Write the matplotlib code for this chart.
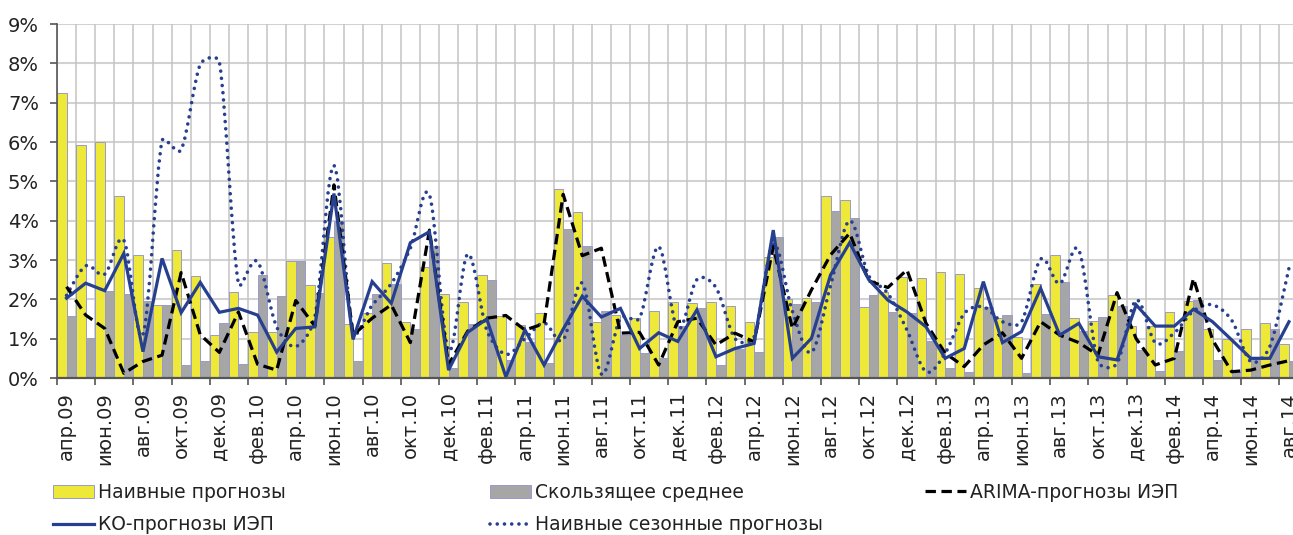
import numpy as np
import matplotlib
matplotlib.use("Agg")
import matplotlib.pyplot as plt
from matplotlib.path import Path
from matplotlib.patches import PathPatch, Patch
from matplotlib.lines import Line2D

plt.rcParams['font.family'] = ['DejaVu Sans']
plt.rcParams['lines.scale_dashes'] = False

month_labels = ["апр.09", "июн.09", "авг.09", "окт.09", "дек.09", "фев.10", "апр.10", "июн.10",
                "авг.10", "окт.10", "дек.10", "фев.11", "апр.11", "июн.11", "авг.11", "окт.11",
                "дек.11", "фев.12", "апр.12", "июн.12", "авг.12", "окт.12", "дек.12", "фев.13",
                "апр.13", "июн.13", "авг.13", "окт.13", "дек.13", "фев.14", "апр.14", "июн.14", "авг.14"]

naive = [7.24, 5.92, 6.01, 4.63, 3.12, 1.85, 3.25, 2.59, 1.09, 2.18, 1.18, 1.18, 2.98, 2.36, 3.58, 1.37,
         1.64, 2.92, 1.43, 2.83, 2.13, 1.93, 2.61, 1.58, 1.35, 1.66, 4.80, 4.22, 1.43, 1.60, 1.52, 1.70,
         1.94, 1.90, 1.94, 1.83, 1.42, 3.08, 2.00, 2.03, 4.63, 4.53, 1.80, 2.19, 2.58, 2.53, 2.69, 2.64,
         2.30, 1.52, 1.05, 2.38, 3.12, 1.52, 1.46, 2.11, 1.32, 1.31, 1.69, 1.95, 1.24, 0.98, 1.25, 1.39, 0.86]

moving_avg = [1.58, 1.01, 2.22, 2.14, 1.95, 1.85, 0.33, 0.43, 1.41, 0.36, 2.62, 2.08, 2.98, 2.15, 4.00, 0.44,
              2.14, 2.38, 1.24, 3.36, 0.25, 1.37, 2.49, 0.46, 0.92, 0.37, 3.79, 3.36, 1.70, 1.09, 0.63, 0.52,
              1.31, 1.77, 0.33, 0.75, 0.65, 3.59, 1.87, 1.92, 4.25, 4.08, 2.10, 1.69, 1.64, 0.94, 0.25, 0.16,
              1.81, 1.60, 0.12, 1.62, 2.44, 1.20, 1.54, 1.84, 0.71, 0.18, 0.69, 1.98, 0.46, 0.15, 0.50, 1.24, 0.43]

arima = [2.32, 1.60, 1.26, 0.12, 0.42, 0.58, 2.68, 1.10, 0.65, 1.68, 0.35, 0.20, 1.97, 1.32, 4.91, 1.09,
         1.52, 1.86, 0.90, 3.76, 0.34, 1.19, 1.52, 1.59, 1.22, 1.38, 4.67, 3.11, 3.30, 1.14, 1.16, 0.33,
         1.43, 1.52, 0.84, 1.14, 0.92, 3.34, 1.26, 2.24, 3.13, 3.68, 2.47, 2.30, 2.75, 1.39, 0.63, 0.29,
         0.84, 1.15, 0.50, 1.43, 1.09, 0.90, 0.58, 2.17, 1.00, 0.33, 0.50, 2.53, 0.97, 0.16, 0.20, 0.33, 0.44]

ko = [2.03, 2.41, 2.22, 3.17, 0.67, 3.04, 1.66, 2.43, 1.67, 1.77, 1.60, 0.66, 1.26, 1.30, 4.69, 0.98,
      2.45, 1.90, 3.44, 3.72, 0.20, 1.16, 1.50, 0.03, 1.22, 0.33, 1.24, 2.08, 1.55, 1.77, 0.75, 1.15,
      0.93, 1.73, 0.54, 0.75, 0.88, 3.76, 0.50, 1.01, 2.62, 3.44, 2.50, 1.98, 1.68, 1.30, 0.50, 0.75,
      2.45, 0.90, 1.18, 2.28, 1.09, 1.39, 0.54, 0.46, 1.86, 1.32, 1.32, 1.75, 1.43, 0.97, 0.50, 0.50, 1.43]

seasonal = [2.10, 2.85, 2.64, 3.50, 1.10, 6.03, 5.80, 7.97, 8.04, 2.40, 2.96, 1.30, 0.80, 1.55, 5.40, 1.18,
            1.85, 2.40, 3.30, 4.65, 0.70, 3.15, 1.22, 0.60, 1.00, 1.40, 0.97, 2.41, 0.10, 1.52, 1.52, 3.34,
            1.25, 2.50, 2.30, 1.00, 1.05, 3.40, 1.70, 0.65, 2.35, 4.00, 2.60, 2.15, 1.22, 0.16, 0.63, 1.64,
            1.81, 1.43, 1.43, 3.02, 2.40, 3.25, 0.42, 0.37, 1.98, 0.90, 1.15, 1.70, 1.86, 1.47, 0.42, 0.80, 2.79]

YELLOW = '#EEE838'
GRAY = '#A6A6A6'
EDGE = '#9A9ACC'
BLUE = '#263F8F'

W, H = 1293, 535
fig = plt.figure(figsize=(W / 100, H / 100), dpi=100)
ax = fig.add_axes([57 / W, 1 - 378 / H, 1241.5 / W, (378 - 24) / H])

n = len(naive)
x = np.arange(n)

# grid
for yv in range(0, 10):
    ax.axhline(yv, color='#D2D2D2', lw=1.5, zorder=0)
for b in np.arange(-0.5, n + 0.5, 1):
    ax.axvline(b, color='#C4C4C4', lw=1.1, zorder=0)

ax.bar(x - 0.25, naive, width=0.5, color=YELLOW, edgecolor=EDGE, linewidth=0.7, zorder=2)
ax.bar(x + 0.25, moving_avg, width=0.5, color=GRAY, edgecolor=EDGE, linewidth=0.7, zorder=2)

ax.plot(x, arima, color='black', lw=2.3, linestyle=(0, (7.5, 4.0)), dash_capstyle='butt', zorder=4)
ax.plot(x, ko, color=BLUE, lw=2.3, zorder=5, solid_joinstyle='miter')

# smoothed seasonal line (Excel-like Bezier smoothing, tangents capped by segment length)
sx, sy = 19.1, 39.3  # pixel scale per unit, used only for the curve's tangent limiting
pts = np.column_stack([x * sx, np.asarray(seasonal) * sy]).astype(float)
verts = [pts[0]]
codes = [Path.MOVETO]
for i in range(n - 1):
    p0 = pts[max(i - 1, 0)]
    p1 = pts[i]
    p2 = pts[i + 1]
    p3 = pts[min(i + 2, n - 1)]
    seg = np.linalg.norm(p2 - p1)
    t1 = (p2 - p0) / 6.0
    t2 = (p3 - p1) / 6.0
    for t in (t1, t2):
        ln = np.linalg.norm(t)
        if ln > seg * 0.4:
            t *= (seg * 0.4) / ln
    verts += [p1 + t1, p2 - t2, p2]
    codes += [Path.CURVE4] * 3
verts = np.array(verts)
verts[:, 0] /= sx
verts[:, 1] /= sy
pp = PathPatch(Path(verts, codes), fill=False, edgecolor=BLUE, lw=2.6,
               linestyle=(0, (0.01, 5.2)), capstyle='round', zorder=3)
ax.add_patch(pp)

ax.set_xlim(-0.5, n - 0.5)
ax.set_ylim(0, 9)

ax.set_yticks(range(0, 10))
ax.set_yticklabels([f"{v}%" for v in range(0, 10)], fontsize=14, color='#222222')

ax.set_xticks(np.arange(-0.5, n, 2))
ax.set_xticklabels([])
ax.set_xticks(np.arange(0, n, 2), minor=True)
ax.set_xticklabels(month_labels, minor=True, rotation=90, fontsize=14, color='#222222')
ax.tick_params(axis='x', which='major', length=5, width=1.2, color='#555555', direction='out')
ax.tick_params(axis='x', which='minor', length=0, pad=10)
ax.tick_params(axis='y', length=5, width=1.2, color='#555555', direction='out', pad=8)

for s in ['top', 'right']:
    ax.spines[s].set_visible(False)
ax.spines['left'].set_color('#555555')
ax.spines['left'].set_linewidth(1.2)
ax.spines['bottom'].set_color('#555555')
ax.spines['bottom'].set_linewidth(1.6)
ax.spines['left'].set_zorder(6)
ax.spines['bottom'].set_zorder(6)

# legend
h_naive = Patch(facecolor=YELLOW, edgecolor=EDGE, linewidth=0.7)
h_ma = Patch(facecolor=GRAY, edgecolor=EDGE, linewidth=0.7)
h_arima = Line2D([], [], color='black', lw=2.3, linestyle=(0, (7.5, 4.0)))
h_ko = Line2D([], [], color=BLUE, lw=2.3)
h_seas = Line2D([], [], color=BLUE, lw=2.6, linestyle=(0, (0.01, 5.2)), dash_capstyle='round')

common = dict(loc='upper left', frameon=False, fontsize=13.5, handlelength=2.2, handletextpad=0.2,
              labelspacing=0.72, borderpad=0, borderaxespad=0, labelcolor='#222222')
top = 1 - 483 / H
fig.legend([h_naive, h_ko], ["Наивные прогнозы", "КО-прогнозы ИЭП"],
           bbox_to_anchor=(53 / W, top), **common)
fig.legend([h_ma, h_seas], ["Скользящее среднее", "Наивные сезонные прогнозы"],
           bbox_to_anchor=(490 / W, top), **common)
fig.legend([h_arima], ["ARIMA-прогнозы ИЭП"],
           bbox_to_anchor=(925 / W, top), **common)

fig.savefig("out.png", dpi=100)
